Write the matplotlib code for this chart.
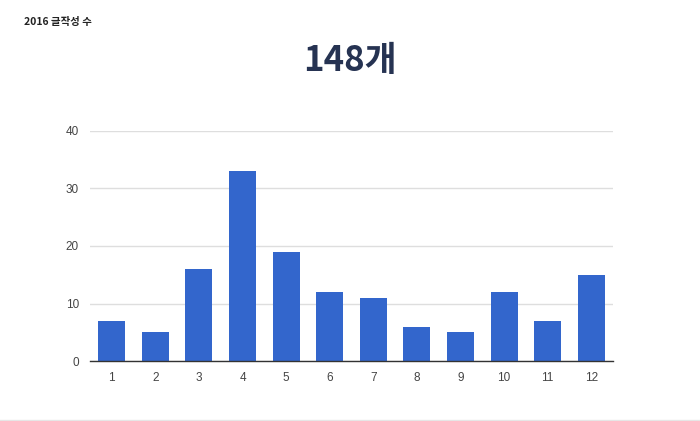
import matplotlib
matplotlib.use("Agg")
import matplotlib.pyplot as plt
from matplotlib.lines import Line2D

plt.rcParams['font.family'] = ['Noto Sans CJK KR', 'DejaVu Sans']

months = ['1', '2', '3', '4', '5', '6', '7', '8', '9', '10', '11', '12']
counts = [7, 5, 16, 33, 19, 12, 11, 6, 5, 12, 7, 15]
yticks = [0, 10, 20, 30, 40]
small_title = "2016 글작성 수"
big_title = f"{sum(counts)}개"

fig = plt.figure(figsize=(7, 4.21), dpi=100)
ax = fig.add_axes([90/700, 1-361/421, (613-90)/700, (361-131)/421])

x = list(range(len(months)))
ax.bar(x, counts, width=0.62, color='#3366cc', zorder=3)
ax.set_xlim(-0.5, len(months)-0.5)
ax.set_ylim(0, 40)
ax.set_yticks(yticks)
ax.set_xticks(x)
ax.set_xticklabels(months)
ax.yaxis.grid(True, color='#dedede', linewidth=1, zorder=0)
for s in ['top', 'right', 'left']:
    ax.spines[s].set_visible(False)
ax.spines['bottom'].set_color('#333333')
ax.spines['bottom'].set_linewidth(1)
ax.spines['bottom'].set_zorder(4)
ax.tick_params(axis='both', length=0, labelsize=8.5, labelcolor='#444444', pad=8)
for lab in ax.get_yticklabels() + ax.get_xticklabels():
    lab.set_family(['Liberation Sans', 'DejaVu Sans'])

fig.text(24/700, 1-22/421, small_title, fontsize=7.5, fontweight='bold',
         color='#222222', ha='left', va='center')
fig.text(350/700, 1-60/421, big_title, fontsize=25, fontweight='bold',
         color='#263352', ha='center', va='center')

fig.add_artist(Line2D([0, 1], [1-419.5/421, 1-419.5/421], color='#e6e6e6',
                      linewidth=1, transform=fig.transFigure))

fig.savefig('out.png', dpi=100)
